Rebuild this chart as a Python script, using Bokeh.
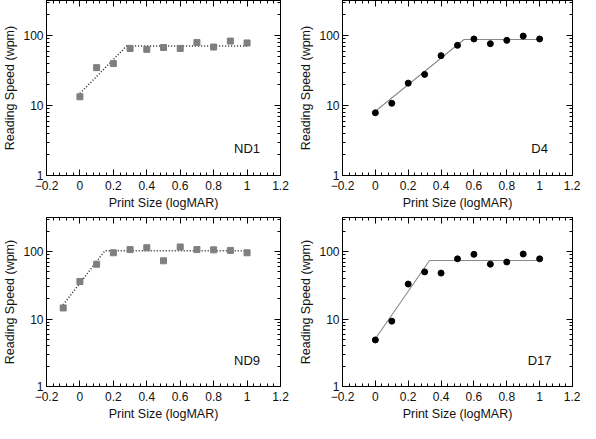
import numpy as np
from bokeh.plotting import figure
from bokeh.layouts import gridplot
from bokeh.models import FixedTicker, LinearAxis, LogAxis, Label, Range1d
from bokeh.embed import file_html
from bokeh.resources import INLINE

# ---- data ----
print_size = [0.0, 0.1, 0.2, 0.3, 0.4, 0.5, 0.6, 0.7, 0.8, 0.9, 1.0]
print_size_nd9 = [-0.1, 0.0, 0.1, 0.2, 0.3, 0.4, 0.5, 0.6, 0.7, 0.8, 0.9, 1.0]

nd1_speed = [13.4, 35, 40, 66, 64, 68, 66, 80, 69, 84, 79]
nd1_fit_x = [0.0, 0.28, 1.0]
nd1_fit_y = [15, 71.5, 71.5]

d4_speed = [7.9, 10.8, 21, 28, 52, 73, 90, 77, 86, 99, 90]
d4_fit_x = [0.0, 0.54, 1.0]
d4_fit_y = [8.3, 88.5, 88.5]

nd9_speed = [14.6, 36, 65, 96, 107, 114, 73, 117, 107, 106, 104, 96]
nd9_fit_x = [-0.1, 0.15, 1.0]
nd9_fit_y = [16.3, 103, 103]

d17_speed = [4.9, 9.3, 33, 50, 48, 78, 91, 65, 70, 92, 78]
d17_fit_x = [0.0, 0.33, 1.0]
d17_fit_y = [5.1, 73.6, 73.6]

x_ticks = [-0.2, 0.0, 0.2, 0.4, 0.6, 0.8, 1.0, 1.2]
x_tick_labels = ["\u22120.2", "0", "0.2", "0.4", "0.6", "0.8", "1", "1.2"]
y_ticks = [1, 10, 100]
y_tick_labels = ["1", "10", "100"]

FONT = "Liberation Sans"

x_minor = [round(-0.2 + 0.04 * i, 4) for i in range(36)]
y_minor = [m * d for d in (1, 10, 100) for m in range(2, 10) if m * d <= 320]


def style_axis(ax, show_labels, standoff=3):
    ax.axis_line_color = "black"
    ax.major_tick_in = 6
    ax.major_tick_out = 0
    ax.minor_tick_in = 3
    ax.minor_tick_out = 0
    ax.major_tick_line_color = "black"
    ax.minor_tick_line_color = "black"
    ax.major_label_text_font = FONT
    ax.major_label_text_color = "#111111"
    ax.axis_label_text_font = FONT
    ax.axis_label_text_font_style = "normal"
    ax.axis_label_text_font_size = "12.5px"
    ax.axis_label_text_color = "#111111"
    if show_labels:
        ax.major_label_text_font_size = "12px"
        ax.major_label_standoff = standoff
        ax.axis_label_standoff = 3
    else:
        ax.major_label_text_font_size = "1px"
        ax.major_label_text_alpha = 0.0
        ax.major_label_standoff = 0


def make_panel(xs, ys, fx, fy, marker, name, left, frame_w, right, top, height, bottom):
    p = figure(width=left + frame_w + right, height=height,
               y_axis_type="log", output_backend="svg", toolbar_location=None,
               x_range=Range1d(-0.2, 1.2), y_range=Range1d(1, 320),
               min_border_left=left, min_border_right=right,
               min_border_top=top, min_border_bottom=bottom)
    p.grid.visible = False
    p.outline_line_color = "black"
    p.background_fill_color = "white"
    p.border_fill_color = "white"

    xt = FixedTicker(ticks=x_ticks, minor_ticks=x_minor)
    yt = FixedTicker(ticks=y_ticks, minor_ticks=y_minor)

    p.xaxis.ticker = xt
    p.xaxis.major_label_overrides = {t: l for t, l in zip(x_ticks, x_tick_labels)}
    p.xaxis.axis_label = "Print Size (logMAR)"
    p.yaxis.ticker = yt
    p.yaxis.major_label_overrides = {t: l for t, l in zip(y_ticks, y_tick_labels)}
    p.yaxis.axis_label = "Reading Speed (wpm)"
    style_axis(p.xaxis[0], True, standoff=5)
    style_axis(p.yaxis[0], True, standoff=3)

    top_ax = LinearAxis(ticker=xt)
    right_ax = LogAxis(ticker=yt)
    style_axis(top_ax, False)
    style_axis(right_ax, False)
    p.add_layout(top_ax, "above")
    p.add_layout(right_ax, "right")

    if marker == "square":
        p.line(fx, fy, line_color="#222222", line_width=1.5, line_dash="1 2")
        p.scatter(xs, ys, marker="square", size=6, fill_color="#7f7f7f",
                  line_color="#7f7f7f", line_width=1)
    else:
        p.line(fx, fy, line_color="#8a8a8a", line_width=1.1)
        p.scatter(xs, ys, marker="circle", size=6, fill_color="black",
                  line_color="black", line_width=1)

    p.add_layout(Label(x=1.0, y=2.4, text=name, text_align="center",
                       text_baseline="middle", text_font=FONT,
                       text_font_size="13px", text_color="#111111"))
    return p


p1 = make_panel(print_size, nd1_speed, nd1_fit_x, nd1_fit_y, "square", "ND1",
                44, 236, 12, 0, 212, 35)
p2 = make_panel(print_size, d4_speed, d4_fit_x, d4_fit_y, "circle", "D4",
                50, 230, 8, 0, 212, 35)
p3 = make_panel(print_size_nd9, nd9_speed, nd9_fit_x, nd9_fit_y, "square", "ND9",
                44, 236, 12, 5, 211, 34)
p4 = make_panel(print_size, d17_speed, d17_fit_x, d17_fit_y, "circle", "D17",
                50, 230, 8, 5, 211, 34)

grid = gridplot([[p1, p2], [p3, p4]], toolbar_location=None)

open("out.html", "w").write(file_html(grid, INLINE))
